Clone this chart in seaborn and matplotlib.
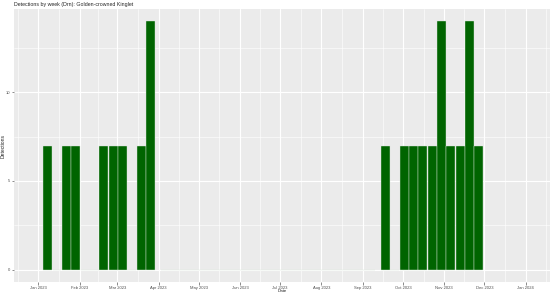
import numpy as np
import pandas as pd
import matplotlib
matplotlib.use("Agg")
import matplotlib.pyplot as plt
import matplotlib.dates as mdates
import matplotlib.ticker as mticker
import seaborn as sns

# ---- data ----
week_dates = ["2023-01-08", "2023-01-22", "2023-01-29", "2023-02-19", "2023-02-26",
              "2023-03-05", "2023-03-19", "2023-03-26",
              "2023-09-18", "2023-10-02", "2023-10-09", "2023-10-16", "2023-10-23",
              "2023-10-30", "2023-11-06", "2023-11-13", "2023-11-20", "2023-11-27"]
detections = [7, 7, 7, 7, 7, 7, 7, 14,
              7, 7, 7, 7, 7, 14, 7, 7, 14, 7]
title = "Detections by week (Drn): Golden-crowned Kinglet"
x_label = "Date"
y_label = "Detections"
y_ticks = [0, 5, 10]

sns.set_theme(style="darkgrid")
plt.rcParams['font.family'] = ['Liberation Sans', 'DejaVu Sans']

dates = pd.to_datetime(week_dates)
xnum = mdates.date2num(dates)
df = pd.DataFrame({"date": xnum, "n": detections})

# bin edges centred on each week
edges = sorted(set(np.round(np.concatenate([xnum - 3.5, xnum + 3.5]), 3)))

fig = plt.figure(figsize=(5.53, 2.95), dpi=100)
ax = fig.add_axes([14 / 553, 1 - 282 / 295, (550 - 14) / 553, (282 - 9) / 295])
ax.set_facecolor("#EBEBEB")

sns.histplot(data=df, x="date", weights="n", bins=edges, shrink=0.95,
             color="#006400", alpha=1, linewidth=0.3, edgecolor="#D8E6D8",
             ax=ax, zorder=3)

start = mdates.date2num(pd.Timestamp("2023-01-01"))
end = mdates.date2num(pd.Timestamp("2024-01-01"))
pad = (end - start) * 0.05
ax.set_xlim(start - pad, end + pad)
ax.set_ylim(-0.7, 14.7)

months = pd.date_range("2022-12-01", "2024-02-01", freq="MS")
mnum = mdates.date2num(months)
major = [m for m in mnum if start - pad <= m <= end + pad]
minor = [(a + b) / 2 for a, b in zip(mnum[:-1], mnum[1:])]
ax.xaxis.set_major_locator(mticker.FixedLocator(major))
ax.xaxis.set_minor_locator(mticker.FixedLocator(minor))
ax.xaxis.set_major_formatter(mdates.DateFormatter("%b %Y"))
ax.yaxis.set_major_locator(mticker.FixedLocator(y_ticks))
ax.yaxis.set_minor_locator(mticker.FixedLocator([2.5, 7.5, 12.5]))

ax.grid(which="major", color="white", linewidth=0.8, zorder=0)
ax.grid(which="minor", color="white", linewidth=0.4, zorder=0)
ax.set_axisbelow(True)
for s in ax.spines.values():
    s.set_visible(False)

ax.tick_params(axis="both", which="major", labelsize=3.0, labelcolor="#4D4D4D",
               color="#333333", length=1.8, width=0.4, pad=1.0, bottom=True, left=True)
ax.tick_params(axis="both", which="minor", length=0)

ax.set_xlabel(x_label, fontsize=3.2)
ax.set_ylabel(y_label, fontsize=3.6)
# place axis labels in pixel positions matching the reference
ax.xaxis.set_label_coords(0.5, -(289.5 - 282) / 273, transform=ax.transAxes)
ax.xaxis.label.set_va("top")
ax.yaxis.set_label_coords(-(14 - 3.5) / 536, 0.5, transform=ax.transAxes)
ax.yaxis.label.set_va("center")
ax.set_title(title, fontsize=3.8, loc="left", pad=2.5)

fig.savefig("out.png", dpi=100)
